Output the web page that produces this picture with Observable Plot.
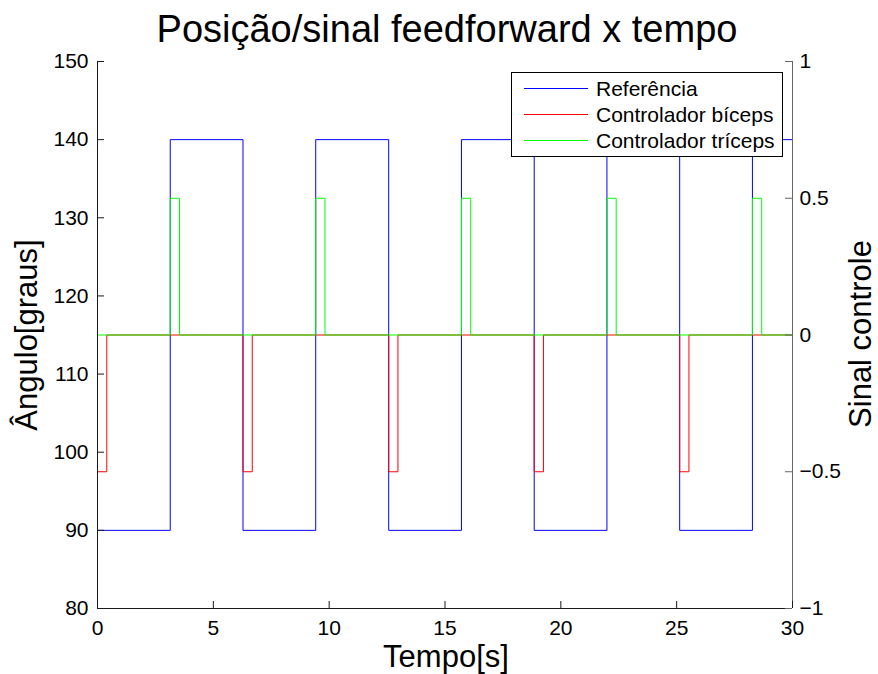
<!DOCTYPE html>
<html>
<head>
<meta charset="utf-8">
<script src="https://cdn.jsdelivr.net/npm/d3@7"></script>
<script src="https://cdn.jsdelivr.net/npm/@observablehq/plot@0.6"></script>
<style>
  html, body { margin: 0; padding: 0; background: #fff; }
  #chart { width: 878px; height: 674px; }
</style>
</head>
<body>
<div id="chart"></div>
<script>
// ---- data ----
const title = "Posição/sinal feedforward x tempo";
const xLabel = "Tempo[s]";
const yLabelLeft = "Ângulo[graus]";
const yLabelRight = "Sinal controle";
const seriesNames = ["Referência", "Controlador bíceps", "Controlador tríceps"];
const seriesColors = ["#0000ff", "#ff0000", "#00ff00"];

// Reference position (degrees), step changes
const refTimes  = [0, 3.14, 6.28, 9.42, 12.57, 15.71, 18.85, 21.99, 25.13, 28.27, 30];
const refValues = [90, 140, 90, 140, 90, 140, 90, 140, 90, 140, 140];

// Biceps controller signal (right axis units)
const bicTimes  = [0, 0.4, 6.28, 6.68, 12.57, 12.97, 18.85, 19.25, 25.13, 25.53, 30];
const bicValues = [-0.5, 0, -0.5, 0, -0.5, 0, -0.5, 0, -0.5, 0, 0];

// Triceps controller signal (right axis units)
const triTimes  = [0, 3.14, 3.54, 9.42, 9.82, 15.71, 16.11, 21.99, 22.39, 28.27, 28.67, 30];
const triValues = [0, 0.5, 0, 0.5, 0, 0.5, 0, 0.5, 0, 0.5, 0, 0];

const xTicks = [0, 5, 10, 15, 20, 25, 30];
const leftTicks = [80, 90, 100, 110, 120, 130, 140, 150];
const rightTicks = [-1, -0.5, 0, 0.5, 1];

// ---- build ----
const W = 878, H = 674;
const mL = 97, mR = 86, mT = 61, mB = 66;
const fw = W - mL - mR, fh = H - mT - mB;
const font = "'Liberation Sans', Arial, Helvetica, sans-serif";

// right axis [-1,1] shares the left scale [80,150]
const toLeft = v => 115 + 35 * v;
const fmt = v => String(v).replace("-", "\u2212");

const ref = refTimes.map((t, i) => ({t, v: refValues[i]}));
const bic = bicTimes.map((t, i) => ({t, v: bicValues[i]}));
const tri = triTimes.map((t, i) => ({t, v: triValues[i]}));

const axisDark = "#1a1a1a", axisGray = "#666666";

const svg = Plot.plot({
  width: W, height: H,
  marginLeft: mL, marginRight: mR, marginTop: mT, marginBottom: mB,
  x: {domain: [0, 30], axis: null},
  y: {domain: [80, 150], axis: null},
  style: {fontFamily: font, background: "#fff", color: "#000", overflow: "visible"},
  marks: [
    Plot.line(ref, {x: "t", y: "v", curve: "step-after", stroke: seriesColors[0], strokeWidth: 1}),
    Plot.line(bic, {x: "t", y: d => toLeft(d.v), curve: "step-after", stroke: seriesColors[1], strokeWidth: 1}),
    Plot.line(tri, {x: "t", y: d => toLeft(d.v), curve: "step-after", stroke: seriesColors[2], strokeWidth: 1}),
    // axis lines
    Plot.ruleX([0], {stroke: axisDark, strokeWidth: 1}),
    Plot.ruleY([80], {stroke: axisDark, strokeWidth: 1}),
    Plot.ruleX([30], {stroke: axisGray, strokeWidth: 1}),
    // inward ticks
    Plot.tickY(leftTicks, {y: d => d, insetRight: fw - 7, stroke: axisDark}),
    Plot.tickX(xTicks, {x: d => d, insetTop: fh - 7, stroke: axisDark}),
    Plot.tickY(rightTicks, {y: d => toLeft(d), insetLeft: fw - 7, stroke: axisGray}),
    // tick labels
    Plot.text(leftTicks, {y: d => d, text: d => fmt(d), frameAnchor: "left", textAnchor: "end", dx: -9, fontSize: 21, fill: "#000"}),
    Plot.text(rightTicks, {y: d => toLeft(d), text: d => fmt(d), frameAnchor: "right", textAnchor: "start", dx: 7, fontSize: 21, fill: "#000"}),
    Plot.text(xTicks, {x: d => d, text: d => fmt(d), frameAnchor: "bottom", lineAnchor: "top", dy: 12, fontSize: 21, fill: "#000"})
  ]
});

const s = d3.select(svg);
// title
s.append("text").attr("x", 447).attr("y", 42).attr("text-anchor", "middle")
  .attr("font-family", font).attr("font-size", 38).attr("fill", "#000").text(title);
// axis labels
s.append("text").attr("x", 446).attr("y", 667).attr("text-anchor", "middle")
  .attr("font-family", font).attr("font-size", 31).attr("fill", "#000").text(xLabel);
s.append("text").attr("transform", "translate(37,335) rotate(-90)").attr("text-anchor", "middle")
  .attr("font-family", font).attr("font-size", 31).attr("fill", "#000").text(yLabelLeft);
s.append("text").attr("transform", "translate(871,334) rotate(-90)").attr("text-anchor", "middle")
  .attr("font-family", font).attr("font-size", 31).attr("fill", "#000").text(yLabelRight);

// legend
const lg = s.append("g");
lg.append("rect").attr("x", 511.5).attr("y", 72.5).attr("width", 271).attr("height", 84)
  .attr("fill", "#fff").attr("stroke", "#000").attr("stroke-width", 1);
seriesNames.forEach((name, i) => {
  const yy = 88.5 + i * 26;
  lg.append("line").attr("x1", 524).attr("x2", 588).attr("y1", yy).attr("y2", yy)
    .attr("stroke", seriesColors[i]).attr("stroke-width", 1);
  lg.append("text").attr("x", 596).attr("y", yy + 7.5).attr("text-anchor", "start")
    .attr("font-family", font).attr("font-size", 21).attr("fill", "#000").text(name);
});

document.getElementById("chart").appendChild(svg);
</script>
</body>
</html>
